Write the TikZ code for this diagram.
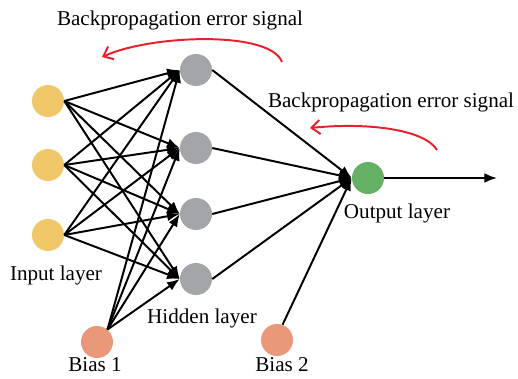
\documentclass[tikz,border=0pt]{standalone}
\usepackage{fontspec}
\setmainfont{Liberation Serif}
\usetikzlibrary{arrows.meta}
\definecolor{inputcol}{RGB}{240,200,105}
\definecolor{hiddencol}{RGB}{163,165,168}
\definecolor{outputcol}{RGB}{102,176,100}
\definecolor{biascol}{RGB}{234,152,122}
\definecolor{signalcol}{RGB}{232,32,44}
\tikzset{
  neuron/.style={circle, inner sep=0pt, minimum size=0.8cm},
  link/.style={-{Latex[length=9pt,width=7pt]}, line width=1.4pt},
  signal/.style={-{Straight Barb[length=6pt,width=10pt]}, signalcol, line width=1.4pt},
  lbl/.style={font=\fontsize{15}{17}\selectfont}
}
\begin{document}
\begin{tikzpicture}[x=0.025cm, y=-0.025cm]
        \useasboundingbox (0,0) rectangle (518,378);

        % layers
        \node [neuron, fill=inputcol] (I1) at (48,101) {};
        \node [neuron, fill=inputcol] (I2) at (48,165) {};
        \node [neuron, fill=inputcol] (I3) at (48,235) {};

        \node [neuron, fill=hiddencol] (H1) at (196,70) {};
        \node [neuron, fill=hiddencol] (H2) at (196,148) {};
        \node [neuron, fill=hiddencol] (H3) at (196,214) {};
        \node [neuron, fill=hiddencol] (H4) at (196,279) {};

        \node [neuron, fill=outputcol] (O) at (368,178) {};
        \coordinate (Y) at (497,178);

        \node [neuron, fill=biascol] (B1) at (97,342) {};
        \node [neuron, fill=biascol] (B2) at (277,340) {};

        % connections
        \foreach \i in {1,2,3}
          \foreach \h in {1,2,3,4}
            \draw[link] (I\i.east) -- (H\h.west);
        \foreach \h in {1,2,3,4}
          \draw[link] (B1.50) -- (H\h.west);
        \foreach \h in {1,2,3,4}
          \draw[link] (H\h.east) -- (O.west);
        \draw[link] (B2.70) -- (O.west);
        \draw[link] (O.east) -- (Y);

        % backpropagation
        \draw[signal] (282,62) .. controls (270,30) and (150,35) .. (102,57);
        \draw[signal] (437,150) .. controls (425,130) and (370,122) .. (310,128);

        % labels
        \node [lbl] (S1) at (180,20) {Backpropagation error signal};
        \node [lbl] (S2) at (391,102) {Backpropagation error signal};
        \node [lbl] (LI) at (56,275) {Input layer};
        \node [lbl] (LH) at (202,318) {Hidden layer};
        \node [lbl] (LO) at (397,213) {Output layer};
        \node [lbl] (LB1) at (95,365) {Bias 1};
        \node [lbl] (LB2) at (282,365) {Bias 2};
\end{tikzpicture}
\end{document}
